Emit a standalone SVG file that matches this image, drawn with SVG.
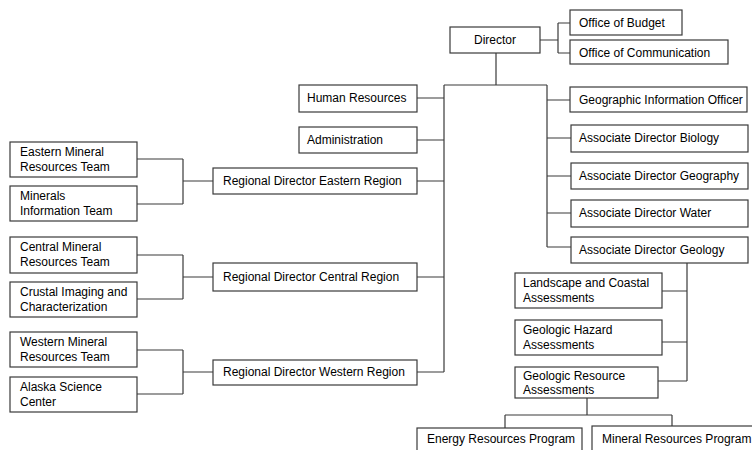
<svg xmlns="http://www.w3.org/2000/svg" width="752" height="450" viewBox="0 0 752 450">
<style>
rect{fill:#fff;stroke:#3a3a3a;stroke-width:1.2}
text{font-family:"Liberation Sans",Arial,sans-serif;font-size:12px;fill:#000}
.c{text-anchor:middle}
#connectors path{fill:none;stroke:#3a3a3a;stroke-width:1.2}
</style>
<rect x="0" y="0" width="752" height="450" style="stroke:none;fill:#fff"/>
<g id="connectors">
<path d="M540 40H558M558 23V53M558 23H570M558 53H570"/>
<path d="M496 53V85M444 85H547M444 85V372M547 85V247"/>
<path d="M417 98H444M417 140H444M417 181H444M417 277H444M417 372H444"/>
<path d="M547 100H570M547 138H571M547 176H571M547 213H571M547 247H571"/>
<path d="M137 159H183M137 204H183M183 159V204M183 181H213"/>
<path d="M137 255H183M137 299H183M183 255V299M183 277H213"/>
<path d="M137 350H183M137 394H183M183 350V394M183 372H213"/>
<path d="M687 263V381M662 291H687M662 342H687M658 381H687"/>
<path d="M587 398V415M505 415H672M505 415V428M672 415V426"/>
</g>
<g id="director"><rect x="450" y="27" width="90" height="26"/><text class="c" x="495" y="44">Director</text></g>
<g id="budget"><rect x="570" y="10" width="112" height="25"/><text x="579" y="27">Office of Budget</text></g>
<g id="communication"><rect x="570" y="40" width="158" height="24"/><text x="579" y="57">Office of Communication</text></g>
<g id="human-resources"><rect x="299" y="85" width="118" height="27"/><text x="307" y="102">Human Resources</text></g>
<g id="administration"><rect x="299" y="127" width="118" height="26"/><text x="307" y="144">Administration</text></g>
<g id="rd-eastern"><rect x="213" y="168" width="204" height="26"/><text x="223" y="185">Regional Director Eastern Region</text></g>
<g id="rd-central"><rect x="213" y="263" width="204" height="28"/><text x="223" y="281">Regional Director Central Region</text></g>
<g id="rd-western"><rect x="213" y="360" width="204" height="25"/><text x="223" y="376">Regional Director Western Region</text></g>
<g id="eastern-mineral"><rect x="10" y="142" width="127" height="35"/><text x="20" y="156">Eastern Mineral</text><text x="20" y="171">Resources Team</text></g>
<g id="minerals-info"><rect x="10" y="186" width="127" height="35"/><text x="20" y="200">Minerals</text><text x="20" y="215">Information Team</text></g>
<g id="central-mineral"><rect x="10" y="237" width="127" height="36"/><text x="20" y="251">Central Mineral</text><text x="20" y="266">Resources Team</text></g>
<g id="crustal"><rect x="10" y="282" width="127" height="35"/><text x="20" y="296">Crustal Imaging and</text><text x="20" y="311">Characterization</text></g>
<g id="western-mineral"><rect x="10" y="332" width="127" height="35"/><text x="20" y="346">Western Mineral</text><text x="20" y="361">Resources Team</text></g>
<g id="alaska"><rect x="10" y="377" width="127" height="35"/><text x="20" y="391">Alaska Science</text><text x="20" y="406">Center</text></g>
<g id="gio"><rect x="570" y="87" width="177" height="25"/><text x="579" y="104">Geographic Information Officer</text></g>
<g id="ad-biology"><rect x="571" y="125" width="177" height="27"/><text x="579" y="142">Associate Director Biology</text></g>
<g id="ad-geography"><rect x="571" y="163" width="177" height="26"/><text x="579" y="180">Associate Director Geography</text></g>
<g id="ad-water"><rect x="571" y="200" width="177" height="27"/><text x="579" y="217">Associate Director Water</text></g>
<g id="ad-geology"><rect x="571" y="237" width="177" height="26"/><text x="579" y="254">Associate Director Geology</text></g>
<g id="landscape"><rect x="515" y="273" width="147" height="35"/><text x="523" y="287">Landscape and Coastal</text><text x="523" y="302">Assessments</text></g>
<g id="hazard"><rect x="515" y="320" width="147" height="35"/><text x="523" y="334">Geologic Hazard</text><text x="523" y="349">Assessments</text></g>
<g id="resource"><rect x="515" y="367" width="143" height="31"/><text x="523" y="380">Geologic Resource</text><text x="523" y="394">Assessments</text></g>
<g id="energy"><rect x="417" y="428" width="165" height="30"/><text x="427" y="443">Energy Resources Program</text></g>
<g id="mineral-program"><rect x="592" y="426" width="170" height="32"/><text x="602" y="443">Mineral Resources Program</text></g>
</svg>
